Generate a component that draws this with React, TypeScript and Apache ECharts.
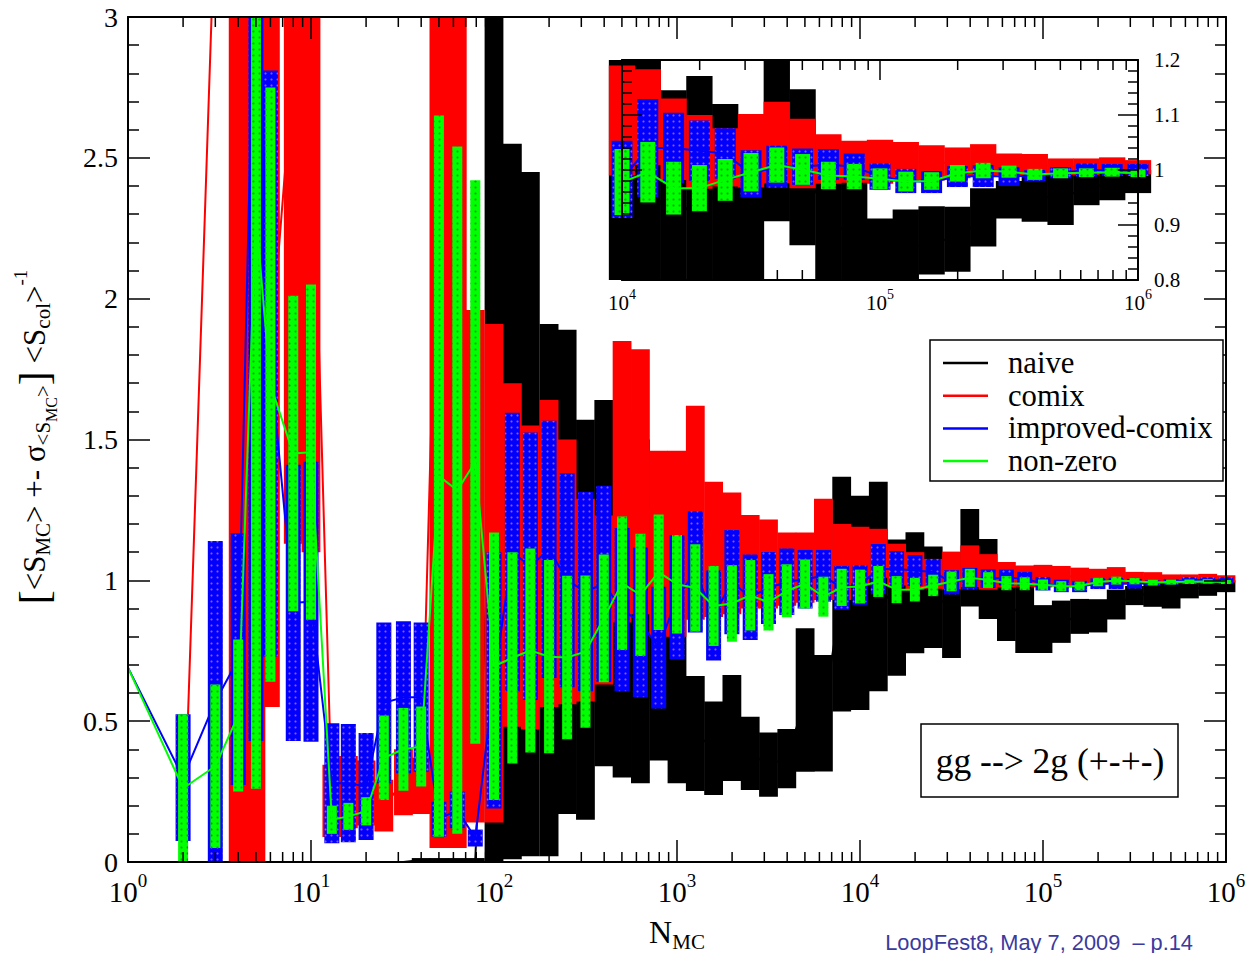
import React, { useEffect, useRef } from 'react';
import * as echarts from 'echarts';

// ---------- data ----------
const N = [1, 2, 3, 4, 5, 6, 8, 10, 13, 16, 20, 25, 32, 40, 50, 63, 79,
  100, 126, 158, 200, 251, 316, 398, 501, 631, 794,
  1000, 1259, 1585, 1995, 2512, 3162, 3981, 5012, 6310, 7943,
  10000, 12589, 15849, 19953, 25119, 31623, 39811, 50119, 63096, 79433,
  100000, 125893, 158489, 199526, 251189, 316228, 398107, 501187, 630957, 794328,
  1000000];

const SERIES_NAMES = ['naive', 'comix', 'improved-comix', 'non-zero'];
const COLORS = ['#000000', '#ff0000', '#0000ff', '#00ff00'];

const NAIVE_MEAN = [0, 0, 0, 0, 0, 0, 0, 0, 0, 0, 0, 0, 0, 0.007, 0.007, 0.007, 0.007,
  1.6, 1.28, 1.235, 0.965, 1.03, 0.86, 0.99, 0.95, 0.89, 0.83,
  0.74, 0.456, 0.404, 0.476, 0.386, 0.346, 0.367, 0.575, 0.528, 0.951,
  0.92, 0.978, 0.903, 0.956, 0.94, 0.912, 1.08, 1.005, 0.918, 0.871,
  0.827, 0.853, 0.872, 0.874, 0.914, 0.946, 0.953, 0.948, 0.968, 0.975,
  0.979];
const NAIVE_SIGMA = [0, 0, 0, 0, 0, 0, 0, 0, 0, 0, 0, 0, 0, 0.007, 0.007, 0.007, 0.007,
  1.8, 1.27, 1.215, 0.945, 0.86, 0.71, 0.65, 0.65, 0.61, 0.47,
  0.46, 0.204, 0.166, 0.188, 0.13, 0.114, 0.105, 0.255, 0.207, 0.417,
  0.38, 0.372, 0.242, 0.215, 0.18, 0.188, 0.173, 0.142, 0.133, 0.129,
  0.085, 0.075, 0.062, 0.059, 0.053, 0.034, 0.047, 0.048, 0.032, 0.03,
  0.021];

const COMIX_MEAN = [0, 0, 3.4, 2.79, 2.2, 1.8, 2.82, 2.82, 0.217, 0.248, 0.245, 0.2, 0.283, 0.27, 2.53, 2.43, 1.05,
  1.025, 1.09, 1.01, 1.095, 1.03, 0.93, 0.93, 1.35, 1.35, 1.13,
  1.13, 1.24, 1.11, 1.096, 1.066, 1.058, 1.04, 1.045, 1.11, 1.065,
  1.09, 1.096, 1.056, 1.033, 1.023, 1.035, 1.05, 1.03, 1.02, 1.015,
  1.015, 1.015, 1.013, 1.013, 1.018, 1.01, 1.01, 1.006, 1.006, 1.008,
  1.005];
const COMIX_SIGMA = [0, 0, 0.2, 3.0, 2.5, 1.25, 1.69, 1.72, 0.128, 0.128, 0.115, 0.092, 0.117, 0.1, 2.48, 2.38, 0.91,
  0.885, 0.61, 0.54, 0.545, 0.47, 0.36, 0.3, 0.5, 0.47, 0.33,
  0.33, 0.38, 0.24, 0.216, 0.166, 0.158, 0.13, 0.125, 0.18, 0.135,
  0.1, 0.087, 0.074, 0.067, 0.053, 0.067, 0.074, 0.063, 0.045, 0.038,
  0.04, 0.036, 0.032, 0.028, 0.029, 0.02, 0.019, 0.015, 0.015, 0.015,
  0.013];

const IMPROVED_MEAN = [0.69, 0.30, 0.57, 0.72, 3.4, 1.77, 0.92, 0.924, 0.28, 0.28, 0.268, 0.565, 0.585, 0.585, 0.152, 0.185, 0.085,
  0.645, 1.1, 1.05, 1.11, 1.0, 0.96, 0.988, 0.896, 0.851, 0.761,
  0.94, 1.03, 0.875, 0.994, 0.94, 0.973, 0.995, 1.004, 1.016, 0.973,
  0.983, 1.04, 1.04, 1.035, 1.03, 0.993, 1.006, 1.006, 1.01, 1.006,
  0.988, 0.98, 0.978, 0.988, 0.989, 0.988, 0.99, 0.995, 1.0, 1.0,
  1.0];
const IMPROVED_SIGMA = [0, 0.225, 0.57, 0.447, 2.97, 1.04, 0.49, 0.497, 0.213, 0.21, 0.19, 0.285, 0.27, 0.265, 0.062, 0.065, 0.03,
  0.455, 0.495, 0.475, 0.457, 0.38, 0.354, 0.348, 0.29, 0.266, 0.216,
  0.22, 0.215, 0.16, 0.185, 0.152, 0.128, 0.118, 0.104, 0.092, 0.078,
  0.07, 0.089, 0.064, 0.055, 0.046, 0.043, 0.038, 0.033, 0.028, 0.024,
  0.024, 0.022, 0.02, 0.019, 0.02, 0.017, 0.01, 0.01, 0.012, 0.011,
  0.011];

const NONZERO_MEAN = [0.69, 0.262, 0.34, 0.52, 2.3, 1.695, 1.45, 1.455, 0.15, 0.162, 0.18, 0.37, 0.40, 0.41, 1.37, 1.32, 1.42,
  0.695, 0.725, 0.751, 0.729, 0.726, 0.747, 0.865, 0.99, 0.948, 1.029,
  0.986, 0.973, 0.909, 0.918, 0.947, 0.922, 0.963, 0.987, 0.942, 0.975,
  0.978, 0.996, 0.967, 0.967, 0.982, 0.996, 1.009, 1.001, 0.99, 0.988,
  0.984, 0.979, 0.98, 0.994, 0.999, 0.997, 0.992, 0.994, 0.995, 0.996,
  0.994];
const NONZERO_SIGMA = [0, 0.263, 0.29, 0.27, 2.04, 1.055, 0.56, 0.595, 0.05, 0.048, 0.05, 0.15, 0.147, 0.142, 1.28, 1.22, 1.0,
  0.475, 0.375, 0.362, 0.343, 0.29, 0.27, 0.227, 0.237, 0.217, 0.205,
  0.175, 0.155, 0.142, 0.136, 0.125, 0.1, 0.094, 0.087, 0.071, 0.066,
  0.06, 0.055, 0.048, 0.042, 0.038, 0.035, 0.032, 0.028, 0.025, 0.023,
  0.019, 0.018, 0.016, 0.015, 0.014, 0.011, 0.01, 0.009, 0.008, 0.008,
  0.007];

const MEANS = [NAIVE_MEAN, COMIX_MEAN, IMPROVED_MEAN, NONZERO_MEAN];
const SIGMAS = [NAIVE_SIGMA, COMIX_SIGMA, IMPROVED_SIGMA, NONZERO_SIGMA];

const MAIN_Y_TICKS = [0, 0.5, 1, 1.5, 2, 2.5, 3];
const INSET_Y_TICKS = [0.8, 0.9, 1, 1.1, 1.2];
const INSET_MIN_N = 10000;

const TITLE_TEXT = 'gg --> 2g (+-+-)';
const FOOTER_TEXT = 'LoopFest8, May 7, 2009  \u2013 p.14';

// ---------- helpers ----------
const SERIF = '"Liberation Serif", "Times New Roman", serif';

function minorLogTicks(lo: number, hi: number) {
  const out: number[] = [];
  for (let d = lo; d < hi; d++) {
    for (let m = 2; m <= 9; m++) out.push(m * Math.pow(10, d));
  }
  return out;
}

const DECALS: any[] = [
  null,
  null,
  { symbol: 'circle', symbolSize: 0.7, color: 'rgba(255,90,120,0.8)', dashArrayX: 2.5, dashArrayY: 2.5 },
  { symbol: 'circle', symbolSize: 0.7, color: 'rgba(40,60,40,0.55)', dashArrayX: 2.5, dashArrayY: 2.5 },
];

// axisIdx: index into xAxis / yAxis arrays (0 = main, 2 = inset)
function barSeries(k: number, w: number, axisIdx: number, zBase: number, minN: number) {
  const color = COLORS[k];
  const decal = DECALS[k];
  const data = N.map((n, i) => [n, MEANS[k][i], SIGMAS[k][i]]).filter((d) => d[0] >= minN);
  return {
    type: 'custom',
    name: SERIES_NAMES[k],
    xAxisIndex: axisIdx,
    yAxisIndex: axisIdx,
    z: zBase + 2 * k,
    silent: true,
    clip: false,
    data,
    renderItem: (params: any, api: any) => {
      const n = api.value(0);
      const m = api.value(1);
      const s = api.value(2);
      if (!(s > 0)) return null;
      const cs = params.coordSys;
      const top = api.coord([n, m + s]);
      const bot = api.coord([n, m - s]);
      const y1 = Math.max(top[1], cs.y);
      const y2 = Math.min(bot[1], cs.y + cs.height);
      if (y2 - y1 <= 0) return null;
      const style: any = { fill: color };
      if (decal) style.decal = decal;
      return {
        type: 'rect',
        shape: { x: top[0] - w / 2, y: y1, width: w, height: y2 - y1 },
        style,
      };
    },
  };
}

function lineSeries(k: number, axisIdx: number, zBase: number, minN: number, width: number) {
  return {
    type: 'line',
    name: SERIES_NAMES[k] + '-line' + axisIdx,
    xAxisIndex: axisIdx,
    yAxisIndex: axisIdx,
    z: zBase + 2 * k + 1,
    silent: true,
    symbol: 'none',
    clip: true,
    data: N.map((n, i) => [n, MEANS[k][i]]).filter((d) => d[0] >= minN),
    lineStyle: { color: COLORS[k], width },
    itemStyle: { color: COLORS[k] },
  };
}

function minorTickSeries(values: number[], axisIdx: number, len: number, z: number) {
  return {
    type: 'custom',
    xAxisIndex: axisIdx,
    yAxisIndex: axisIdx,
    z,
    silent: true,
    clip: false,
    data: values.map((v) => [v, 1]),
    renderItem: (params: any, api: any) => {
      const cs = params.coordSys;
      const x = api.coord([api.value(0), 1])[0];
      const st = { stroke: '#000', lineWidth: 1.5 };
      return {
        type: 'group',
        children: [
          { type: 'line', shape: { x1: x, y1: cs.y + cs.height, x2: x, y2: cs.y + cs.height - len }, style: st },
          { type: 'line', shape: { x1: x, y1: cs.y, x2: x, y2: cs.y + len }, style: st },
        ],
      };
    },
  };
}

function logAxis(grid: number, pos: string, min: number, max: number, showLabel: boolean, big: boolean) {
  return {
    type: 'log',
    logBase: 10,
    gridIndex: grid,
    position: pos,
    min,
    max,
    splitNumber: Math.round(Math.log10(max / min)),
    z: 60,
    axisLine: { show: true, onZero: false, lineStyle: { color: '#000', width: 2 } },
    axisTick: { show: true, inside: true, length: big ? 22 : 20, lineStyle: { color: '#000', width: 1.5 } },
    minorTick: { show: false },
    splitLine: { show: false },
    axisLabel: {
      show: showLabel,
      margin: big ? 9 : 7,
      formatter: (v: number) => '{b|10}{s|' + Math.round(Math.log10(v)) + '}',
      rich: big
        ? {
            b: { fontSize: 29, fontFamily: SERIF, color: '#000' },
            s: { fontSize: 19, fontFamily: SERIF, color: '#000', padding: [0, 0, 22, 0] },
          }
        : {
            b: { fontSize: 21, fontFamily: SERIF, color: '#000' },
            s: { fontSize: 14, fontFamily: SERIF, color: '#000', padding: [0, 0, 18, 0] },
          },
    },
  };
}

function valAxis(grid: number, pos: string, ticks: number[], showLabel: boolean, big: boolean) {
  const interval = ticks[1] - ticks[0];
  return {
    type: 'value',
    gridIndex: grid,
    position: pos,
    min: ticks[0],
    max: ticks[ticks.length - 1],
    interval,
    z: 60,
    axisLine: { show: true, onZero: false, lineStyle: { color: '#000', width: 2 } },
    axisTick: { show: true, inside: true, length: big ? 22 : 20, lineStyle: { color: '#000', width: 1.5 } },
    minorTick: { show: true, splitNumber: 5, length: big ? 11 : 10, lineStyle: { color: '#000', width: 1.5 } },
    splitLine: { show: false },
    axisLabel: {
      show: showLabel,
      margin: big ? 10 : 16,
      fontSize: big ? 28 : 21,
      fontFamily: SERIF,
      color: '#000',
      formatter: (v: number) => String(Math.round(v * 10) / 10),
    },
  };
}

export default function App() {
  const ref = useRef<HTMLDivElement>(null);
  useEffect(() => {
    if (!ref.current) return;
    const chart = echarts.init(ref.current, null as any, { renderer: 'svg' });

    const MAIN = 0;
    const INSET = 2;
    const series: any[] = [];
    for (let k = 0; k < 4; k++) {
      const wMain = k < 2 ? 18.8 : k === 2 ? 15 : 10;
      series.push(barSeries(k, wMain, MAIN, 2, 0));
      series.push(lineSeries(k, MAIN, 2, 0, 2));
    }
    for (let k = 0; k < 4; k++) {
      const wIn = k < 2 ? 26.3 : k === 2 ? 21 : 15;
      series.push(barSeries(k, wIn, INSET, 20, INSET_MIN_N));
      series.push(lineSeries(k, INSET, 20, INSET_MIN_N, 2));
    }
    series.push(minorTickSeries(minorLogTicks(0, 6), MAIN, 10, 61));
    series.push(minorTickSeries(minorLogTicks(4, 6), INSET, 10, 61));

    const yTitle =
      '{br|[}{t|<S}{s1|MC}{t|> +- \u03c3}{s2|<S}{s3|MC}{s2|>}{br|]}{t| <S}{s1|col}{t|>}{sp|-1}';

    const legendEls: any[] = [];
    legendEls.push({
      type: 'rect',
      z: 100,
      shape: { x: 930, y: 340, width: 293, height: 141 },
      style: { fill: '#fff', stroke: '#000', lineWidth: 1.5 },
    });
    SERIES_NAMES.forEach((name, i) => {
      const y = 363 + 32.7 * i;
      legendEls.push({
        type: 'line',
        z: 101,
        shape: { x1: 943, y1: y, x2: 988, y2: y },
        style: { stroke: COLORS[i], lineWidth: 2.5 },
      });
      legendEls.push({
        type: 'text',
        z: 101,
        x: 1008,
        y,
        style: { text: name, fontSize: 30.7, fontFamily: SERIF, fill: '#000', align: 'left', verticalAlign: 'middle' },
      });
    });

    chart.setOption({
      animation: false,
      backgroundColor: '#fff',
      grid: [
        { left: 128, top: 17, width: 1098, height: 845 },
        { left: 622, top: 60, width: 516, height: 220 },
      ],
      xAxis: [
        logAxis(0, 'bottom', 1, 1000000, true, true),
        logAxis(0, 'top', 1, 1000000, false, true),
        logAxis(1, 'bottom', 10000, 1000000, true, false),
        logAxis(1, 'top', 10000, 1000000, false, false),
      ],
      yAxis: [
        valAxis(0, 'left', MAIN_Y_TICKS, true, true),
        valAxis(0, 'right', MAIN_Y_TICKS, false, true),
        valAxis(1, 'left', INSET_Y_TICKS, false, false),
        valAxis(1, 'right', INSET_Y_TICKS, true, false),
      ],
      series,
      graphic: {
        elements: [
          {
            type: 'text',
            z: 100,
            x: 34,
            y: 437,
            rotation: Math.PI / 2,
            style: {
              text: yTitle,
              fill: '#000',
              fontFamily: SERIF,
              fontSize: 30,
              align: 'center',
              verticalAlign: 'middle',
              rich: {
                t: { fontSize: 31, fontFamily: SERIF, fill: '#000' },
                br: { fontSize: 42, fontFamily: SERIF, fill: '#000' },
                s1: { fontSize: 21, fontFamily: SERIF, fill: '#000', padding: [18, 0, 0, 0] },
                s2: { fontSize: 21, fontFamily: SERIF, fill: '#000', padding: [18, 0, 0, 0] },
                s3: { fontSize: 16, fontFamily: SERIF, fill: '#000', padding: [34, 0, 0, 0] },
                sp: { fontSize: 19, fontFamily: SERIF, fill: '#000', padding: [0, 0, 28, 0] },
              },
            },
          },
          {
            type: 'text',
            z: 100,
            x: 677,
            y: 932,
            style: {
              text: '{t|N}{s|MC}',
              fill: '#000',
              align: 'center',
              verticalAlign: 'middle',
              rich: {
                t: { fontSize: 32, fontFamily: SERIF, fill: '#000' },
                s: { fontSize: 21, fontFamily: SERIF, fill: '#000', padding: [20, 0, 0, 0] },
              },
            },
          },
          ...legendEls,
          {
            type: 'rect',
            z: 100,
            shape: { x: 921, y: 724, width: 257, height: 73 },
            style: { fill: '#fff', stroke: '#000', lineWidth: 1.5 },
          },
          {
            type: 'text',
            z: 101,
            x: 1050,
            y: 761,
            style: { text: TITLE_TEXT, fontSize: 35.5, fontFamily: SERIF, fill: '#000', align: 'center', verticalAlign: 'middle' },
          },
          {
            type: 'text',
            z: 100,
            x: 1193,
            y: 942,
            style: {
              text: FOOTER_TEXT,
              fontSize: 21.8,
              fontFamily: '"Liberation Sans", Arial, sans-serif',
              fill: '#3a3aa0',
              align: 'right',
              verticalAlign: 'middle',
            },
          },
        ],
      },
    });
    return () => chart.dispose();
  }, []);
  return (
    <div
      ref={ref}
      style={{ position: 'absolute', left: 0, top: 0, width: 1254, height: 953, background: '#fff' }}
    />
  );
}
